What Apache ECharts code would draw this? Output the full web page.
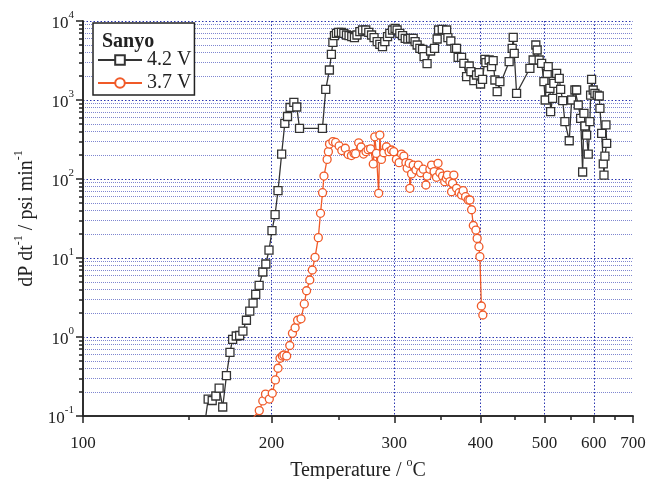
<!DOCTYPE html>
<html><head><meta charset="utf-8">
<script src="https://cdn.jsdelivr.net/npm/echarts@6/dist/echarts.min.js"></script>
<style>html,body{margin:0;padding:0;background:#fff}#c{width:647px;height:479px}</style>
</head><body><div id="c"></div>
<script>
// ---- data (temperature in °C, rate in psi/min) ----
const tempBlack = [159,160.9,163.2,165.3,167.2,169.3,171.5,173.6,175.2,177.4,179.5,181.5,183.7,185.8,187.9,189.6,191.8,194.2,196.2,198.3,200.3,202.4,204.4,206.9,209.1,211.0,212.8,215.5,217.6,219.6,236.9,239.5,242.4,244.0,245.2,246.5,248.1,249.9,252.2,254.2,256.4,258.6,260.9,263.2,265.4,267.9,270.3,273.2,275.9,278.4,280.7,283.6,286.1,288.6,290.8,293.4,295.6,298.3,300.8,302.8,305.5,308.3,311.0,313.7,316.5,319.3,321.3,323.5,326.4,329.3,331.0,334.3,338.2,342.7,345.7,347.3,351.6,356.8,358.3,361.8,366.7,368.8,370.8,375.1,378.0,381.5,384.9,387.1,391.0,394.6,398.1,400.0,402.7,405.9,407.3,411.9,415.3,417.6,420.1,427.4,423.4,441.3,446.0,447.6,449.2,452.9,474.6,480.1,484.7,487.0,490.5,494.8,498.9,501.2,504.9,506.7,509.8,511.1,514.8,517.2,522.4,527.4,530.1,534.1,538.4,547.1,552.0,558.7,562.3,565.7,570.8,575.1,577.9,580.1,583.8,587.4,591.1,592.7,594.9,598.6,602.5,607.9,612.6,614.2,618.3,622.2,623.9,626.2,630.4,628.7];
const rateBlack = [0.08,0.164,0.157,0.179,0.226,0.130,0.324,0.64,0.935,1.03,1.045,1.19,1.63,2.12,2.68,3.47,4.51,6.65,8.4,12.6,22.2,35.5,71.1,207,507,618,804,935,815,438,438,1366,2397,3788,5370,6514,6982,7190,7190,6980,6650,6514,6330,6145,6650,7320,7690,7690,7190,6650,6145,5470,5070,4730,5470,6330,6980,7690,8080,7690,6980,6514,6040,5920,6040,6040,5470,4966,4512,4383,3534,2880,4170,4512,5920,7690,7850,7690,6145,5580,4512,4512,3472,3472,2915,1972,2692,2280,1754,2073,2216,1594,1828,3273,2965,3208,2640,3145,1791,1704,1274,3053,4512,6220,3899,1215,2519,3208,4966,4296,3208,2915,1704,1000,2178,2640,1406,711,1051,1627,2178,1883,1366,980,531,305,1000,1338,1338,865,586,122.6,679,469,360,207,531,1156,1828,1338,1215,1156,1124,785,378,155,112,195,283,483];
const tempRed = [187,191.9,194.2,196.0,198.5,200.5,202.6,204.4,205.8,207.4,208.5,210.4,212.6,214.5,216.4,218.2,220.7,223.1,224.8,227.2,229.1,231.2,233.7,235.4,237.0,238.1,240.6,241.6,242.5,245.2,247.4,250.3,252.5,255.4,257.9,260.6,262.9,264.2,266.9,269.0,271.2,273.4,275.3,277.5,280.0,281.4,282.9,285.0,286.1,287.6,289.8,292.4,294.9,297.3,299.5,302.1,304.8,307.2,309.6,311.7,313.0,315.1,315.8,317.6,319.3,322.2,324.7,327.2,330.1,333.0,334.4,337.4,339.3,342.2,344.9,346.7,348.8,351.9,354.5,356.5,357.7,360.6,362.7,363.9,365.5,368.8,372.1,375.1,377.1,380.2,383.5,385.8,388.0,390.3,393.7,395.4,397.8,399.1,401.1,403.1];
const rateRed = [0.09,0.117,0.155,0.189,0.164,0.194,0.286,0.402,0.538,0.575,0.592,0.575,0.781,1.114,1.31,1.63,1.70,2.62,3.85,5.27,7.05,10.2,18.1,36.8,67.1,109,177,222,277,298,290,262,229,245,204,198,210,209,287,254,207,222,235,241,155,342,211,65.9,360,177,215,256,222,233,222,177,161,207,195,161,137,158,76.2,116,150,130,150,120,133,84,109,133,150,124,105,158,120,109,92.4,102,112,92.4,69,88.2,112,76.2,67.1,62.7,71.1,59.7,54.2,54.2,40.8,25.8,22.6,17.7,13.9,10.4,2.47,1.90];

const seriesNames = ['4.2 V', '3.7 V'];
const legendTitle = 'Sanyo';
const xMajorTicks = [100, 200, 300, 400, 500, 600, 700];
const xMinorTicks = [150, 250, 350, 450, 550, 650];
const yDecades = [-1, 0, 1, 2, 3, 4];
const yMinorMultipliers = [2, 3, 4, 5, 6, 7, 8, 9];

// ---- reciprocal-temperature scale: 1000 / K ----
const invK = t => 1000 / (t + 273.15);
const toC = u => Math.round(1000 / u - 273.15);
const xMin = invK(xMajorTicks[xMajorTicks.length - 1]);
const xMax = invK(xMajorTicks[0]);
const yMinorVals = [];
yDecades.slice(0, -1).forEach(d => yMinorMultipliers.forEach(m => yMinorVals.push(d + Math.log10(m))));

const FONT = 'Liberation Serif';
const INK = '#222';
const GRIDBLUE = '#2a35b0';
const ORANGE = '#f05a28';

const chart = echarts.init(document.getElementById('c'));
chart.setOption({
  backgroundColor: '#fff',
  animation: false,
  textStyle: { fontFamily: FONT },
  grid: { left: 83, right: 14, top: 21, bottom: 63, containLabel: false, outerBoundsMode: 'none' },
  title: {
    text: legendTitle, left: 97, top: 27, z: 20,
    textStyle: { fontFamily: FONT, fontWeight: 'bold', fontSize: 20, color: INK }
  },
  legend: {
    data: seriesNames, left: 93, top: 23, orient: 'vertical', z: 10,
    padding: [27, 3, 2, 4], itemGap: 3, itemWidth: 44, itemHeight: 12,
    borderColor: INK, borderWidth: 1.5, backgroundColor: '#fff',
    textStyle: { fontFamily: FONT, fontSize: 20, color: INK, padding: [0, 0, 0, 0] }
  },
  xAxis: [
    {
      type: 'value', inverse: true, min: xMin, max: xMax, position: 'bottom',
      name: '{t|Temperature / }{s|o}{t|C}', nameLocation: 'middle', nameGap: 39,
      nameTextStyle: { rich: {
        t: { fontFamily: FONT, fontSize: 20, color: INK, lineHeight: 24, verticalAlign: 'bottom' },
        s: { fontFamily: FONT, fontSize: 12, color: INK, verticalAlign: 'top', lineHeight: 24 }
      } },
      axisLine: { show: true, onZero: false, lineStyle: { color: INK, width: 1.5 } },
      axisTick: { show: true, inside: false, length: 7, customValues: xMajorTicks.map(invK), lineStyle: { color: INK, width: 1.5 } },
      axisLabel: { customValues: xMajorTicks.map(invK), formatter: v => String(toC(v)), margin: 19, fontFamily: FONT, fontSize: 17, color: INK },
      splitLine: { show: true, showMinLine: false, showMaxLine: false, lineStyle: { color: GRIDBLUE, type: [1.5, 2], width: 1 } }
    },
    {
      type: 'value', inverse: true, min: xMin, max: xMax, position: 'bottom',
      axisLine: { show: true, onZero: false, lineStyle: { color: INK, width: 1.5 } },
      axisTick: { show: true, inside: false, length: 4, customValues: xMinorTicks.map(invK), lineStyle: { color: INK, width: 1.5 } },
      axisLabel: { show: false },
      splitLine: { show: false }
    }
  ],
  yAxis: [
    {
      type: 'log', logBase: 10, min: 0.1, max: 10000, splitNumber: 5, position: 'left',
      name: '{t|dP dt}{s|-1}{t| / psi min}{s|-1}', nameLocation: 'middle', nameGap: 46,
      nameTextStyle: { rich: {
        t: { fontFamily: FONT, fontSize: 20, color: INK, lineHeight: 24, verticalAlign: 'bottom' },
        s: { fontFamily: FONT, fontSize: 12, color: INK, verticalAlign: 'top', lineHeight: 24 }
      } },
      axisLine: { show: true, onZero: false, lineStyle: { color: INK, width: 1.5 } },
      axisTick: { show: true, inside: false, length: 7, lineStyle: { color: INK, width: 1.5 } },
      axisLabel: {
        margin: 9, color: INK,
        formatter: v => '{b|10}{s|' + Math.round(Math.log10(v)) + '}',
        rich: {
          b: { fontFamily: FONT, fontSize: 17, color: INK, lineHeight: 22, verticalAlign: 'bottom', padding: [6, 0, 0, 0] },
          s: { fontFamily: FONT, fontSize: 11, color: INK, lineHeight: 22, verticalAlign: 'top' }
        }
      },
      splitLine: { show: true, showMinLine: false, lineStyle: { color: GRIDBLUE, type: [1.5, 2], width: 1 } }
    },
    {
      type: 'value', min: yDecades[0], max: yDecades[yDecades.length - 1], position: 'left',
      axisLine: { show: true, onZero: false, lineStyle: { color: INK, width: 1.5 } },
      axisTick: { show: true, inside: false, length: 4, customValues: yMinorVals, lineStyle: { color: INK, width: 1.5 } },
      axisLabel: { show: false },
      splitLine: { show: true, lineStyle: { color: GRIDBLUE, type: [1, 1], width: 1, opacity: 0.6 } }
    }
  ],
  series: [
    {
      name: seriesNames[0], type: 'line', xAxisIndex: 0, yAxisIndex: 0, clip: true,
      data: tempBlack.map((t, i) => [invK(t), rateBlack[i]]),
      symbol: 'rect', symbolSize: 8, showAllSymbol: true,
      itemStyle: { color: '#fff', borderColor: '#333', borderWidth: 1.3 },
      lineStyle: { color: '#333', width: 1.3 }, z: 3
    },
    {
      name: seriesNames[1], type: 'line', xAxisIndex: 0, yAxisIndex: 0, clip: true,
      data: tempRed.map((t, i) => [invK(t), rateRed[i]]),
      symbol: 'circle', symbolSize: 8, showAllSymbol: true,
      itemStyle: { color: '#fff', borderColor: ORANGE, borderWidth: 1.3 },
      lineStyle: { color: ORANGE, width: 1.3 }, z: 4
    }
  ]
});
</script></body></html>
